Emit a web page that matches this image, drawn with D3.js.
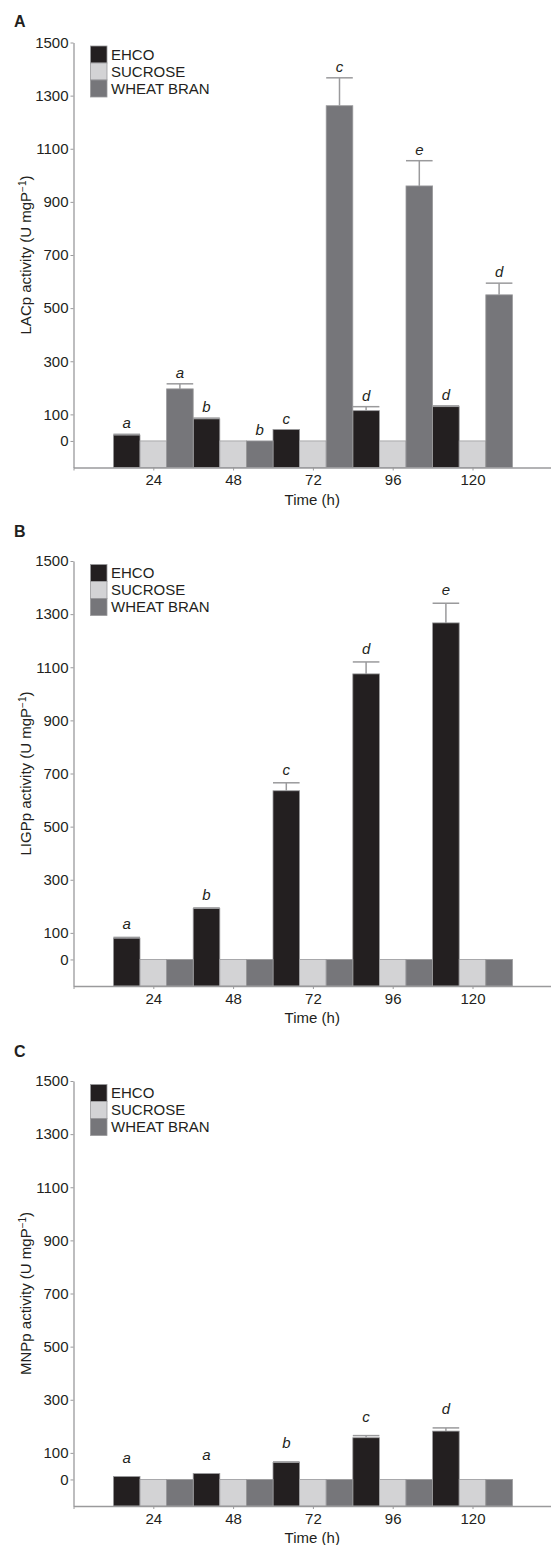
<!DOCTYPE html>
<html>
<head>
<meta charset="utf-8">
<script src="https://cdn.jsdelivr.net/npm/d3@7"></script>
<style>
  body { margin: 0; background: #fff; }
  text { font-family: "Liberation Sans", Arial, sans-serif; fill: #231f20; }
</style>
</head>
<body>
<div id="chart"></div>
<script>
const times = [24, 48, 72, 96, 120];
const series = ["EHCO", "SUCROSE", "WHEAT BRAN"];
const yTicks = [0, 100, 300, 500, 700, 900, 1100, 1300, 1500];

// A - LACp
const lacEhco = [22, 83, 43, 114, 129];
const lacEhcoErr = [3, 3, 0, 15, 3];
const lacSucrose = [0, 0, 0, 0, 0];
const lacWheat = [196, 0, 1262, 960, 550];
const lacWheatErr = [19, 0, 105, 95, 44];
const lacEhcoLetters = ["a", "b", "c", "d", "d"];
const lacWheatLetters = ["a", "b", "c", "e", "d"];

// B - LIGPp
const ligEhco = [80, 192, 635, 1075, 1267];
const ligEhcoErr = [3, 2, 30, 45, 74];
const ligSucrose = [0, 0, 0, 0, 0];
const ligWheat = [0, 0, 0, 0, 0];
const ligEhcoLetters = ["a", "b", "c", "d", "e"];

// C - MNPp
const mnpEhco = [11, 22, 64, 157, 182];
const mnpEhcoErr = [0, 0, 2, 8, 12];
const mnpSucrose = [0, 0, 0, 0, 0];
const mnpWheat = [0, 0, 0, 0, 0];
const mnpEhcoLetters = ["a", "a", "b", "c", "d"];

const colors = { "EHCO": "#231f20", "SUCROSE": "#d3d3d5", "WHEAT BRAN": "#76767a" };

const width = 551, height = 1545;
const plotH = 425;
const baseVal = -100; // bars start below zero, like the original

// panel layout (tops, letter baselines, letter gap above bars)
const panels = [
  { letter: "A", name: "LACp", top: 42.5, letterY: 27, gap: 6,
    values: [lacEhco, lacSucrose, lacWheat], errs: [lacEhcoErr, null, lacWheatErr],
    letters: [lacEhcoLetters, null, lacWheatLetters] },
  { letter: "B", name: "LIGPp", top: 561, letterY: 537, gap: 8,
    values: [ligEhco, ligSucrose, ligWheat], errs: [ligEhcoErr, null, null],
    letters: [ligEhcoLetters, null, null] },
  { letter: "C", name: "MNPp", top: 1081, letterY: 1057, gap: 14,
    values: [mnpEhco, mnpSucrose, mnpWheat], errs: [mnpEhcoErr, null, null],
    letters: [mnpEhcoLetters, null, null] }
];

const svg = d3.select("#chart")
  .append("svg")
  .attr("width", width)
  .attr("height", height)
  .attr("viewBox", [0, 0, width, height]);

const x = d3.scaleLinear()
  .domain([0, 144])
  .range([73.5, 73.5 + 144 * 3.325]);
const bw = x(24) - x(0);
const xSub = d3.scaleBand()
  .domain(series)
  .range([-bw / 2, bw / 2]);

const y = d3.scaleLinear()
  .domain([baseVal, 1500])
  .range([plotH, 0]);

panels.forEach(p => {
  const g = svg.append("g").attr("transform", `translate(0,${p.top})`);

  // panel letter
  svg.append("text")
    .attr("x", 14)
    .attr("y", p.letterY)
    .attr("font-size", 16)
    .attr("font-weight", "bold")
    .text(p.letter);

  // bars
  series.forEach((s, si) => {
    const rows = times.map((t, i) => ({
      t: t,
      v: p.values[si][i],
      e: p.errs[si] ? p.errs[si][i] : 0,
      l: p.letters[si] ? p.letters[si][i] : ""
    }));
    const sg = g.append("g").attr("class", "series");

    sg.selectAll("rect")
      .data(rows)
      .join("rect")
      .attr("x", d => x(d.t) + xSub(s))
      .attr("width", xSub.bandwidth())
      .attr("y", d => y(d.v))
      .attr("height", d => y(baseVal) - y(d.v))
      .attr("fill", colors[s])
      .attr("stroke", "#9a9a9c")
      .attr("stroke-width", 0.8);

    // error bars
    const eb = rows.filter(d => d.e > 0);
    sg.selectAll("line.stem")
      .data(eb)
      .join("line")
      .attr("class", "stem")
      .attr("x1", d => x(d.t) + xSub(s) + xSub.bandwidth() / 2)
      .attr("x2", d => x(d.t) + xSub(s) + xSub.bandwidth() / 2)
      .attr("y1", d => y(d.v))
      .attr("y2", d => y(d.v + d.e))
      .attr("stroke", "#9a9a9c")
      .attr("stroke-width", 1.5);
    sg.selectAll("line.cap")
      .data(eb)
      .join("line")
      .attr("class", "cap")
      .attr("x1", d => x(d.t) + xSub(s))
      .attr("x2", d => x(d.t) + xSub(s) + xSub.bandwidth())
      .attr("y1", d => y(d.v + d.e))
      .attr("y2", d => y(d.v + d.e))
      .attr("stroke", "#9a9a9c")
      .attr("stroke-width", 1.5);

    // significance letters
    sg.selectAll("text")
      .data(rows.filter(d => d.l))
      .join("text")
      .attr("x", d => x(d.t) + xSub(s) + xSub.bandwidth() / 2)
      .attr("y", d => y(d.v + d.e) - p.gap)
      .attr("text-anchor", "middle")
      .attr("font-size", 15)
      .attr("font-style", "italic")
      .text(d => d.l);
  });

  // y axis
  const ya = g.append("g")
    .attr("transform", `translate(${x(0)},0)`)
    .call(d3.axisLeft(y).tickValues(yTicks).tickSize(3).tickSizeOuter(0).tickPadding(2)
      .tickFormat(d3.format("d")));
  ya.selectAll("text").attr("font-size", 15).attr("font-family", null);

  // x axis
  const xa = g.append("g")
    .attr("transform", `translate(0,${plotH})`)
    .call(d3.axisBottom(x).tickValues([0].concat(times)).tickSize(3).tickSizeOuter(0).tickPadding(4)
      .tickFormat(d => d === 0 ? "" : d));
  xa.selectAll("text").attr("font-size", 15).attr("font-family", null);

  [ya, xa].forEach(a => {
    a.select(".domain").attr("stroke", "#9a9a9c").attr("stroke-width", 1.3);
    a.selectAll(".tick line").attr("stroke", "#9a9a9c");
  });

  // axis titles
  const yl = g.append("text")
    .attr("transform", `translate(31,${plotH / 2}) rotate(-90)`)
    .attr("text-anchor", "middle")
    .attr("font-size", 15);
  yl.append("tspan").text(p.name + " activity (U mgP");
  yl.append("tspan").attr("baseline-shift", "super").attr("font-size", 10).text("\u22121");
  yl.append("tspan").text(")");

  g.append("text")
    .attr("x", (x(0) + width) / 2)
    .attr("y", plotH + 37)
    .attr("text-anchor", "middle")
    .attr("font-size", 15)
    .text("Time (h)");

  // legend
  const lg = g.append("g").attr("transform", "translate(90.5,3.5)");
  series.forEach((s, i) => {
    lg.append("rect")
      .attr("x", 0)
      .attr("y", i * 17)
      .attr("width", 16.5)
      .attr("height", 17)
      .attr("fill", colors[s])
      .attr("stroke", "#9a9a9c")
      .attr("stroke-width", 0.8);
    lg.append("text")
      .attr("x", 20.5)
      .attr("y", i * 17 + 8.5)
      .attr("dy", "0.35em")
      .attr("font-size", 15)
      .text(s);
  });
});
</script>
</body>
</html>
